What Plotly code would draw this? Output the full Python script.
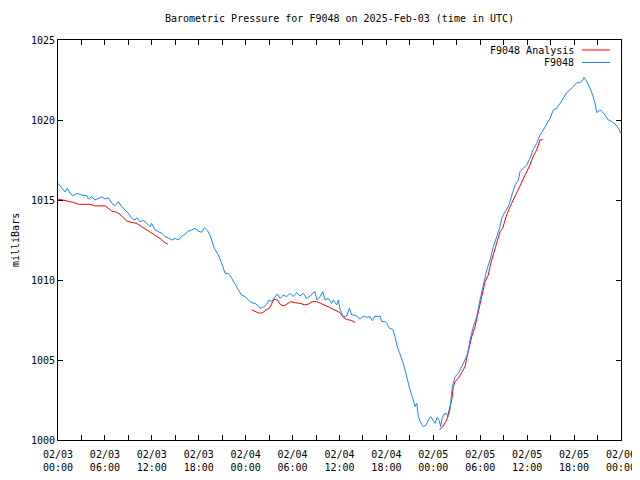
import plotly.graph_objects as go

# hours after 2025-02-03 00:00 UTC
obs_hours = [0.0, 0.47, 0.90, 1.19, 1.53, 1.96, 2.39, 3.03, 3.67, 3.88, 4.31, 4.73, 5.15, 5.59, 6.01, 6.43, 6.87, 7.29, 7.71, 8.15,
             8.57, 8.99, 9.43, 9.85, 10.07, 10.49, 10.91, 11.34, 11.77, 11.98, 12.41, 12.83, 13.26, 13.68, 14.11, 14.54, 14.96, 15.39,
             15.82, 16.24, 16.66, 17.10, 17.52, 17.94, 18.38, 18.71, 19.15, 19.44, 19.73, 19.99, 20.50, 20.94, 21.36, 21.78, 22.22,
             22.64, 23.06, 23.49, 23.92, 24.34, 24.77, 25.19, 25.62, 25.83, 26.26, 26.69, 26.99, 27.33, 27.75, 28.05, 28.39, 28.81,
             29.25, 29.67, 30.09, 30.53, 30.95, 31.37, 31.81, 32.23, 32.65, 32.87, 33.09, 33.51, 33.85, 34.15, 34.57, 35.00, 35.21,
             35.64, 35.85, 36.07, 36.49, 36.92, 37.26, 37.56, 37.98, 38.41, 38.62, 39.05, 39.48, 39.90, 40.20, 40.54, 40.96, 41.18,
             41.40, 41.82, 42.04, 42.37, 42.81, 43.10, 43.39, 43.74, 44.08, 44.38, 44.67, 45.02, 45.36, 45.66, 45.88, 46.08, 46.39,
             46.72, 47.07, 47.36, 47.67, 48.00, 48.22, 48.51, 48.77, 48.94, 49.11, 49.37, 49.62, 49.92, 50.13, 50.43, 50.77, 51.19,
             51.63, 52.05, 52.40, 52.69, 53.12, 53.55, 53.97, 54.39, 54.83, 55.25, 55.67, 56.11, 56.53, 56.75, 57.17, 57.59, 58.02,
             58.45, 58.87, 59.09, 59.51, 59.94, 60.45, 60.79, 61.22, 61.64, 62.07, 62.50, 62.92, 63.35, 63.78, 64.20, 64.62, 65.06,
             65.48, 65.90, 66.34, 66.76, 67.10, 67.27, 67.62, 68.04, 68.38, 68.68, 68.90, 69.32, 69.61, 69.96, 70.38, 70.81, 71.24,
             71.66, 71.97]
obs_mb = [1016.04, 1015.73, 1015.5, 1015.73, 1015.42, 1015.27, 1015.42, 1015.31, 1015.27, 1015.06, 1015.21, 1015.0, 1015.1,
          1015.2, 1015.06, 1015.14, 1014.79, 1014.64, 1014.9, 1014.58, 1014.38, 1014.17, 1013.85, 1013.75, 1013.9, 1013.64,
          1013.75, 1013.54, 1013.33, 1013.54, 1013.13, 1013.02, 1012.92, 1012.71, 1012.64, 1012.5, 1012.6, 1012.5, 1012.75,
          1012.85, 1013.06, 1013.13, 1013.23, 1013.06, 1012.98, 1013.27, 1013.06, 1012.81, 1012.4, 1011.98, 1011.56, 1011.04,
          1010.42, 1010.42, 1010.1, 1009.69, 1009.38, 1009.06, 1008.96, 1008.75, 1008.58, 1008.54, 1008.38, 1008.23, 1008.29,
          1008.5, 1008.75, 1008.65, 1008.96, 1009.13, 1008.85, 1009.06, 1008.96, 1009.17, 1008.96, 1009.21, 1009.0, 1009.17,
          1008.85, 1009.0, 1009.21, 1009.27, 1008.75, 1008.96, 1009.27, 1008.75, 1008.85, 1008.54, 1008.75, 1008.44, 1008.75,
          1008.17, 1007.71, 1007.75, 1008.23, 1007.81, 1007.81, 1007.67, 1007.54, 1007.75, 1007.67, 1007.71, 1007.46, 1007.75,
          1007.71, 1007.75, 1007.4, 1007.4, 1007.29, 1006.98, 1006.92, 1006.46, 1005.83, 1005.42, 1004.9, 1004.38, 1003.75,
          1003.13, 1002.6, 1002.08, 1002.29, 1001.46, 1001.08, 1000.83, 1000.94, 1001.25, 1001.46, 1001.25, 1001.04, 1001.42,
          1001.21, 1000.83, 1001.35, 1001.63, 1001.67, 1001.46, 1001.88, 1003.33, 1003.95, 1004.17, 1004.58, 1005.0, 1005.42,
          1006.25, 1007.08, 1007.71, 1008.75, 1009.58, 1010.63, 1011.25, 1012.08, 1012.71, 1013.33, 1013.85, 1014.27, 1014.58,
          1015.2, 1015.94, 1016.21, 1016.77, 1016.98, 1017.19, 1017.71, 1018.17, 1018.54, 1019.06, 1019.38, 1019.79, 1020.1,
          1020.63, 1020.73, 1021.04, 1021.35, 1021.71, 1021.88, 1022.08, 1022.33, 1022.33, 1022.5, 1022.67, 1022.4, 1021.98,
          1021.56, 1021.04, 1020.46, 1020.63, 1020.52, 1020.31, 1020.0, 1019.9, 1019.75, 1019.48, 1019.17]

ana_hours = [0.0, 0.68, 1.32, 1.96, 2.60, 3.45, 4.09, 4.73, 5.37, 6.01, 6.43, 6.87, 7.51, 7.93, 8.35, 8.79, 9.43, 10.07, 10.70,
             11.34, 11.98, 12.62, 13.05, 13.47, 14.03, None,
             24.77, 25.19, 25.74, 26.18, 26.60, 27.02, 27.33, 27.62, 28.05, 28.48, 28.90, 29.33, 29.76, 30.31, 30.95, 31.59,
             32.01, 32.57, 33.09, 33.60, 34.15, 34.70, 35.21, 35.72, 36.07, 36.49, 36.92, 37.56, 37.98, None,
             48.77, 49.20, 49.71, 50.04, 50.35, 50.56, 50.77, 51.19, 51.63, 52.05, 52.27, 52.60, 52.91, 53.33, 53.75, 54.19,
             54.61, 55.03, 55.34, 55.76, 56.11, 56.53, 56.87, 57.30, 57.81, 58.23, 58.66, 59.09, 59.51, 59.94, 60.36, 60.79,
             61.22, 61.64, 61.99]
ana_mb = [1015.06, 1015.0, 1014.94, 1014.85, 1014.73, 1014.73, 1014.73, 1014.63, 1014.64, 1014.64, 1014.48, 1014.31, 1014.23,
          1014.1, 1013.9, 1013.69, 1013.6, 1013.54, 1013.33, 1013.13, 1012.92, 1012.75, 1012.6, 1012.4, 1012.23, None,
          1008.13, 1008.06, 1007.92, 1007.96, 1008.13, 1008.23, 1008.54, 1008.79, 1008.75, 1008.44, 1008.38, 1008.54, 1008.65,
          1008.58, 1008.54, 1008.44, 1008.5, 1008.65, 1008.65, 1008.54, 1008.44, 1008.29, 1008.17, 1008.02, 1007.96, 1007.67,
          1007.54, 1007.46, 1007.35, None,
          1000.63, 1000.83, 1001.25, 1001.88, 1002.5, 1003.33, 1003.65, 1003.85, 1004.27, 1004.58, 1005.1, 1005.83, 1006.46,
          1007.08, 1007.92, 1008.96, 1009.9, 1010.31, 1011.04, 1011.77, 1012.29, 1013.02, 1013.23, 1013.96, 1014.58, 1015.0,
          1015.42, 1015.83, 1016.25, 1016.67, 1017.19, 1017.75, 1018.13, 1018.75, 1018.79]

x_tick_vals = [0, 6, 12, 18, 24, 30, 36, 42, 48, 54, 60, 66, 72]
x_tick_text = ["02/03<br>00:00", "02/03<br>06:00", "02/03<br>12:00", "02/03<br>18:00",
               "02/04<br>00:00", "02/04<br>06:00", "02/04<br>12:00", "02/04<br>18:00",
               "02/05<br>00:00", "02/05<br>06:00", "02/05<br>12:00", "02/05<br>18:00", "02/06<br>00:00"]
y_tick_vals = [1000, 1005, 1010, 1015, 1020, 1025]

RED = "#ff0000"
BLUE = "#1a85ff"
FONT = "DejaVu Sans Mono"

# the page places the figure 8px from the top-left corner of the window
W, H = 632, 472

fig = go.Figure()
fig.add_trace(go.Scatter(x=ana_hours, y=ana_mb, mode="lines", name="F9048 Analysis",
                         line=dict(color=RED, width=1), connectgaps=False))
fig.add_trace(go.Scatter(x=obs_hours, y=obs_mb, mode="lines", name="F9048",
                         line=dict(color=BLUE, width=1)))

fig.update_layout(
    width=W, height=H,
    margin=dict(l=50, r=19, t=32, b=40, autoexpand=False),
    paper_bgcolor="white", plot_bgcolor="white",
    showlegend=False,
    font=dict(family=FONT, size=10, color="black"),
    title=dict(text="Barometric Pressure for F9048 on 2025-Feb-03 (time in UTC)",
               x=0.5, xref="paper", xanchor="center", y=1 - 10 / H, yref="container", yanchor="middle",
               font=dict(family=FONT, size=10, color="black")),
)
fig.update_xaxes(range=[0, 72], tickmode="array", tickvals=x_tick_vals, ticktext=x_tick_text, automargin=False,
                 showgrid=False, zeroline=False, showline=True, linecolor="black", linewidth=1, mirror="allticks",
                 ticks="inside", ticklen=5, tickcolor="black", ticklabelstandoff=5,
                 minor=dict(ticks="inside", dtick=3, tick0=0, ticklen=5, tickcolor="black", showgrid=False))
fig.update_yaxes(range=[1000, 1025], tickmode="array", tickvals=y_tick_vals, automargin=False,
                 showgrid=False, zeroline=False, showline=True, linecolor="black", linewidth=1, mirror="allticks",
                 ticks="inside", ticklen=5, tickcolor="black")

# y-axis label
fig.add_annotation(text="milliBars", textangle=-90, xref="paper", yref="paper",
                   x=(15 - 58) / 563, y=0.5, xanchor="center", yanchor="middle", showarrow=False,
                   font=dict(family=FONT, size=10, color="black"))

# gnuplot-style legend (text then line sample)
legend_rows = [("F9048 Analysis", RED, (440 - 50) / 400), ("F9048", BLUE, (440 - 62.5) / 400)]
for label, col, yy in legend_rows:
    fig.add_annotation(text=label, xref="paper", yref="paper", x=(576 - 58) / 563, y=yy,
                       xanchor="right", yanchor="middle", showarrow=False,
                       font=dict(family=FONT, size=10, color="black"))
    fig.add_shape(type="line", xref="paper", yref="paper", x0=(582 - 58) / 563, x1=(610 - 58) / 563,
                  y0=yy, y1=yy, line=dict(color=col, width=1))

fig.write_html("out.html")
